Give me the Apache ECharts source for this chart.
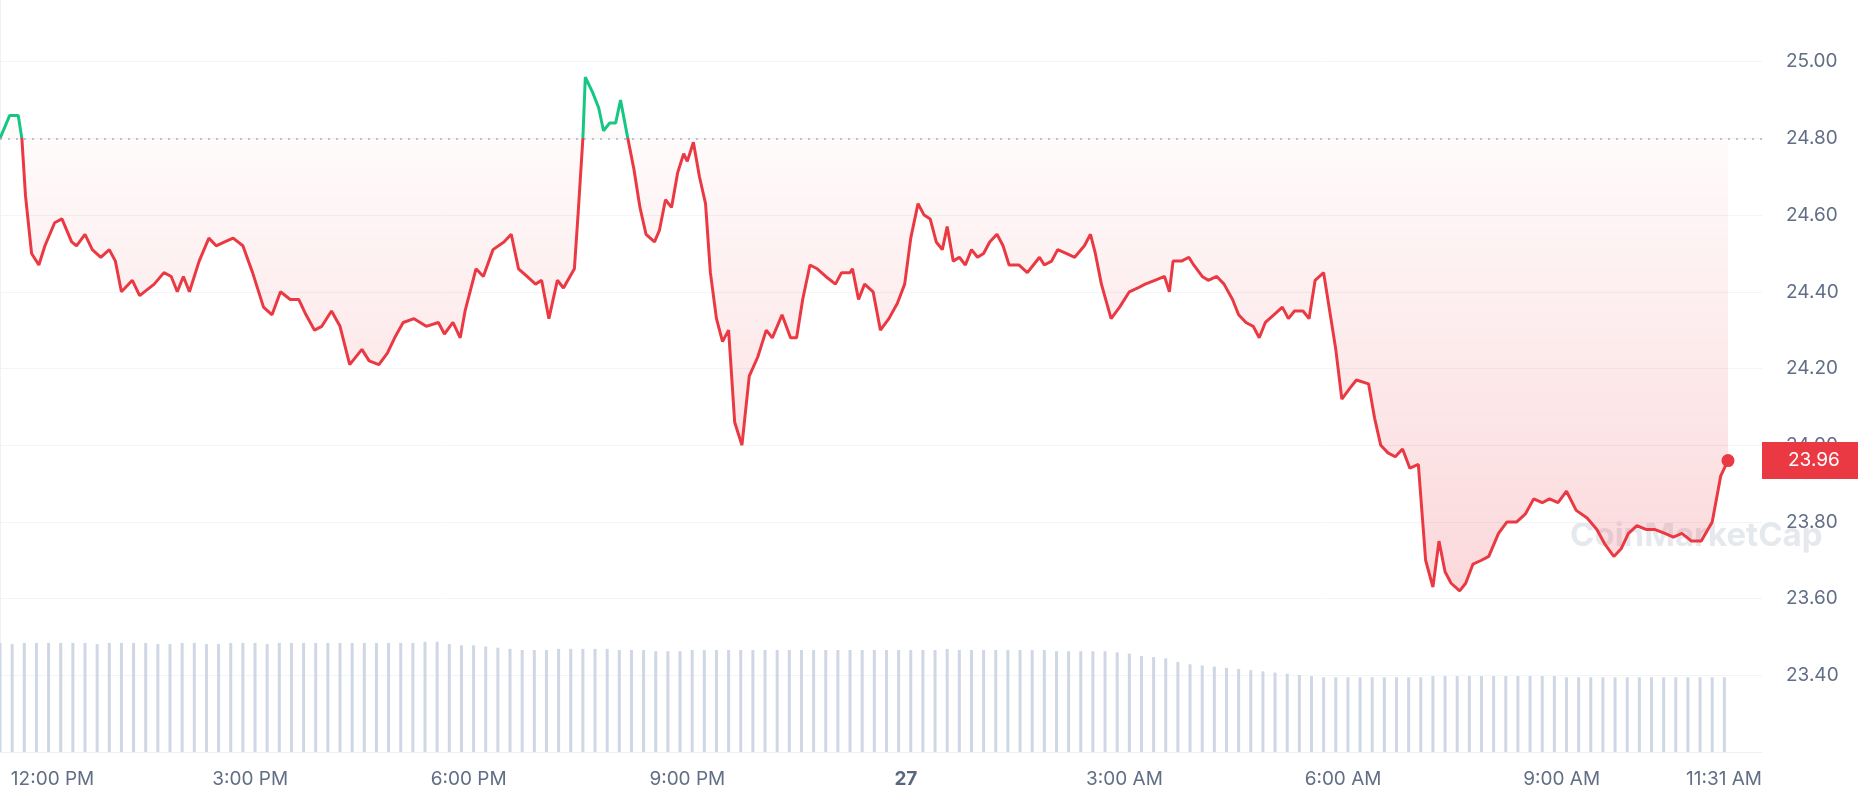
<!DOCTYPE html>
<html><head><meta charset="utf-8">
<script src="https://cdn.jsdelivr.net/npm/echarts@6/dist/echarts.min.js"></script>
<style>html,body{margin:0;padding:0;background:#fff}#c{width:1858px;height:800px}</style>
</head><body><div id="c"></div>
<script>
// price: [minutes since start, price]
const priceData = [[0,24.80],[8,24.86],[15,24.86],[18,24.80],[21,24.65],[26,24.50],[32,24.47],[37,24.52],[45,24.58],[51,24.59],[59,24.53],[63,24.52],[70,24.55],[76,24.51],[83,24.49],[90,24.51],[95,24.48],[100,24.40],[109,24.43],[115,24.39],[127,24.42],[135,24.45],[141,24.44],[146,24.40],[151,24.44],[156,24.40],[164,24.48],[172,24.54],[178,24.52],[185,24.53],[192,24.54],[200,24.52],[208,24.45],[217,24.36],[224,24.34],[231,24.40],[239,24.38],[246,24.38],[252,24.34],[259,24.30],[265,24.31],[273,24.35],[280,24.31],[288,24.21],[298,24.25],[304,24.22],[312,24.21],[319,24.24],[325,24.28],[332,24.32],[341,24.33],[351,24.31],[361,24.32],[366,24.29],[373,24.32],[379,24.28],[383,24.35],[392,24.46],[398,24.44],[406,24.51],[415,24.53],[421,24.55],[427,24.46],[434,24.44],[441,24.42],[446,24.43],[452,24.33],[459,24.43],[464,24.41],[473,24.46],[476,24.60],[480,24.80],[482,24.96],[488,24.92],[493,24.88],[497,24.82],[502,24.84],[507,24.84],[511,24.90],[517,24.80],[522,24.72],[527,24.62],[532,24.55],[539,24.53],[543,24.56],[548,24.64],[553,24.62],[558,24.71],[563,24.76],[566,24.74],[571,24.79],[576,24.70],[581,24.63],[585,24.45],[590,24.33],[595,24.27],[600,24.30],[605,24.06],[611,24.00],[617,24.18],[624,24.23],[631,24.30],[636,24.28],[644,24.34],[651,24.28],[656,24.28],[661,24.38],[667,24.47],[673,24.46],[680,24.44],[688,24.42],[693,24.45],[700,24.45],[702,24.46],[707,24.38],[712,24.42],[719,24.40],[725,24.30],[732,24.33],[739,24.37],[745,24.42],[750,24.54],[756,24.63],[761,24.60],[766,24.59],[771,24.53],[776,24.51],[780,24.57],[785,24.48],[790,24.49],[795,24.47],[800,24.51],[805,24.49],[810,24.50],[815,24.53],[821,24.55],[826,24.52],[831,24.47],[839,24.47],[846,24.45],[851,24.47],[856,24.49],[860,24.47],[866,24.48],[871,24.51],[878,24.50],[885,24.49],[893,24.52],[898,24.55],[902,24.50],[907,24.42],[915,24.33],[922,24.36],[930,24.40],[937,24.41],[943,24.42],[951,24.43],[959,24.44],[963,24.40],[966,24.48],[973,24.48],[979,24.49],[983,24.47],[990,24.44],[995,24.43],[1002,24.44],[1008,24.42],[1015,24.38],[1020,24.34],[1026,24.32],[1032,24.31],[1037,24.28],[1042,24.32],[1049,24.34],[1056,24.36],[1061,24.33],[1066,24.35],[1073,24.35],[1078,24.33],[1083,24.43],[1090,24.45],[1095,24.35],[1100,24.25],[1105,24.12],[1112,24.15],[1117,24.17],[1127,24.16],[1132,24.07],[1137,24.00],[1143,23.98],[1149,23.97],[1155,23.99],[1161,23.94],[1168,23.95],[1174,23.70],[1180,23.63],[1185,23.75],[1190,23.67],[1195,23.64],[1202,23.62],[1207,23.64],[1213,23.69],[1220,23.70],[1226,23.71],[1234,23.77],[1241,23.80],[1249,23.80],[1256,23.82],[1263,23.86],[1270,23.85],[1276,23.86],[1283,23.85],[1290,23.88],[1298,23.83],[1307,23.81],[1315,23.78],[1322,23.74],[1329,23.71],[1335,23.73],[1341,23.77],[1348,23.79],[1356,23.78],[1363,23.78],[1371,23.77],[1378,23.76],[1385,23.77],[1393,23.75],[1401,23.75],[1410,23.80],[1417,23.92],[1423,23.96]];
// volume every 10 minutes (relative units)
const volumeValues = [92,91,92,92,92,92,92,92,91,92,92,92, 92,91,91,92,92,91,91,92,92,92,91,92, 92,92,92,92,92,92,92,92,92,92,92,93, 93,91,90,90,89,88,87,86,86,86,87,87, 87,87,87,86,86,86,85,85,85,86,86,86, 86,86,86,86,86,86,86,86,86,86,86,86, 86,86,86,86,86,86,87,86,86,86,86,86, 86,86,86,85,85,85,85,85,84,83,81,80, 79,76,74,73,72,71,70,69,68,67,66,65, 64,63,63,63,63,63,63,63,63,63,64,64, 64,64,64,64,64,64,64,64,64,63,63,63, 63,63,63,63,63,63,63,63,63,63,63];
const openPrice = 24.80;
const lastPrice = 23.96;
// x tick positions in minutes since 11:34 AM and their labels
const xTickMinutes = [26,206,386,566,746,926,1106,1286,1437];
const xTickLabels = ['{l|12:00 PM}','3:00 PM','6:00 PM','9:00 PM','{b|27}','3:00 AM','6:00 AM','9:00 AM','{r|11:31 AM}'];
const X_MAX = 1451;

const vols = volumeValues.map((v,i) => [i*10, v]);
const lastPt = priceData[priceData.length-1];
const lab = {color:'#616e85',fontSize:19,fontFamily:'Inter'};

const chart = echarts.init(document.getElementById('c'));
chart.setOption({
 animation:false,
 grid:{left:0,right:96,top:-15,bottom:48,containLabel:false,outerBoundsMode:'none'},
 xAxis:{type:'value',min:0,max:X_MAX,
   axisLine:{lineStyle:{color:'#eff2f5'}},axisTick:{show:false},splitLine:{show:false},
   axisLabel:{customValues:xTickMinutes,formatter:v=>xTickLabels[xTickMinutes.indexOf(v)]||'',...lab,margin:18,
     rich:{b:{...lab,fontWeight:'bold',color:'#58667e'},l:{...lab,padding:[0,0,0,42]},r:{...lab,padding:[0,42,0,0]}}}},
 yAxis:[{type:'value',position:'right',min:23.2,max:25.2,interval:0.2,
   axisLine:{show:true,lineStyle:{color:'#eff2f5'}},axisTick:{show:false},
   splitLine:{lineStyle:{color:'#f2f4f7'}},
   axisLabel:{showMinLabel:false,showMaxLabel:false,...lab,margin:24,formatter:v=>v.toFixed(2)}},
  {type:'value',min:0,max:647,show:false}],
 series:[{type:'line',data:priceData,showSymbol:false,lineStyle:{width:3,color:'#ea3943'},
   areaStyle:{origin:openPrice,color:new echarts.graphic.LinearGradient(0,0,0,1,[{offset:0,color:'rgba(234,57,67,0.0)'},{offset:1,color:'rgba(234,57,67,0.28)'}])},
   markLine:{silent:true,symbol:'none',data:[
     {yAxis:openPrice,lineStyle:{color:'#a6b0c3',type:[2,6],width:1.5},label:{show:false}}]},
   z:3},
  {type:'scatter',data:[lastPt],symbolSize:13,itemStyle:{color:'#ea3943',opacity:1},z:4},
  {type:'scatter',data:[[X_MAX,lastPrice]],symbolSize:0,clip:false,z:5,silent:true,itemStyle:{opacity:1},
   label:{show:true,position:'right',distance:0,formatter:lastPrice.toFixed(2),opacity:1,
     backgroundColor:'#ea3943',color:'#fff',fontSize:19,fontFamily:'Inter',padding:[9,30,9,26]}},
  {type:'bar',yAxisIndex:1,data:vols,barWidth:3,itemStyle:{color:'#cfd6e4'},z:1}],
 graphic:[{type:'text',left:1570,top:520,style:{text:'CoinMarketCap',fill:'rgba(170,178,196,0.3)',font:'bold 33px Inter'}}]
});
// colour the line green above the opening price
const yOpen = chart.convertToPixel({yAxisIndex:0}, openPrice);
const f = yOpen/800;
chart.setOption({series:[{lineStyle:{color:new echarts.graphic.LinearGradient(0,0,0,800,[
  {offset:0,color:'#16c784'},{offset:f,color:'#16c784'},{offset:f,color:'#ea3943'},{offset:1,color:'#ea3943'}],true)}}]});
</script></body></html>
